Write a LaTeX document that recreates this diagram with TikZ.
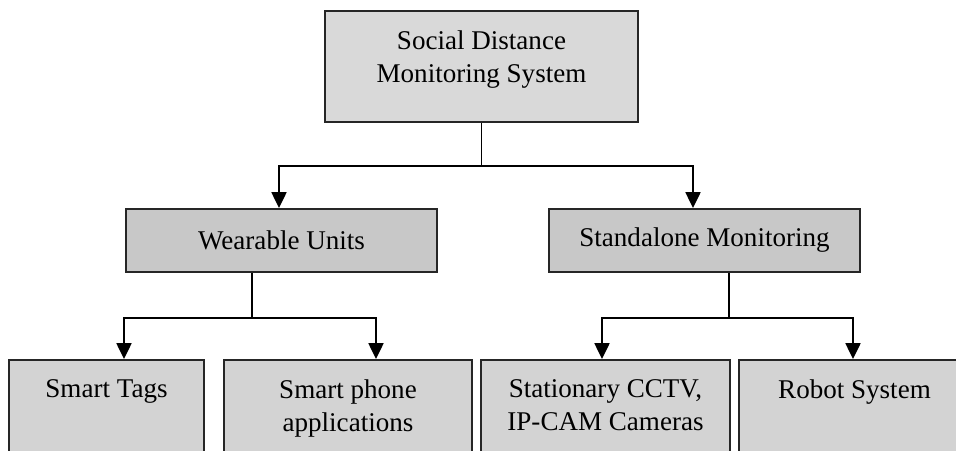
\documentclass[tikz,border=0pt]{standalone}
\usepackage{fontspec}
\setmainfont{Liberation Serif}
\usetikzlibrary{positioning}
\usetikzlibrary{arrows.meta}
\definecolor{topgray}{RGB}{217,217,217}
\definecolor{midgray}{RGB}{200,200,200}
\definecolor{lowgray}{RGB}{211,211,211}
\tikzset{every picture/.style={line width=1.1pt},
box/.style={draw=black!85,rectangle,inner sep=0pt},
lbl/.style={inner sep=0pt,align=center,font=\fontsize{15.4}{18.5}\selectfont},
arr/.style={-{Triangle[width=8.5pt,length=9pt]}}}

\begin{document}
\begin{tikzpicture}[x=0.02cm,y=0.02cm]
\useasboundingbox (0,0) rectangle (956,450);
\clip (0,0) rectangle (956,450);

% top
\node (sdms) at (481.5,383.5) [box,fill=topgray,minimum width=6.26cm,minimum height=2.22cm] {};
\node (sdmst) [lbl,below=0.4cm of sdms.north] {Social Distance\\Monitoring System};

% second row
\node (wear) at (281.5,209.5) [box,lbl,fill=midgray,minimum width=6.22cm,minimum height=1.26cm] {Wearable Units};
\node (stand) at (704.5,209.5) [box,lbl,fill=midgray,minimum width=6.22cm,minimum height=1.26cm] {Standalone Monitoring};

% third row (runs off the bottom)
\node (tags) at (106.5,35) [box,fill=lowgray,minimum width=3.9cm,minimum height=2.2cm] {};
\node (phone) at (348,35) [box,fill=lowgray,minimum width=4.96cm,minimum height=2.2cm] {};
\node (cctv) at (605.5,35) [box,fill=lowgray,minimum width=4.98cm,minimum height=2.2cm] {};
\node (robot) at (854.5,35) [box,fill=lowgray,minimum width=4.62cm,minimum height=2.2cm] {};
\node (tagst) [lbl,below=0.4cm of tags.north] {Smart Tags};
\node (phonet) [lbl,below=0.4cm of phone.north] {Smart phone\\applications};
\node (cctvt) [lbl,below=0.4cm of cctv.north] {Stationary CCTV,\\IP-CAM Cameras};
\node (robott) [lbl,below=0.4cm of robot.north] {Robot System};

% connectors
\draw (sdms.south) -- ++(0,-43) coordinate (j1);
\draw[arr] (j1) -| ([xshift=-0.05cm]wear.north);
\draw[arr] (j1) -| ([xshift=-0.23cm]stand.north);

\draw ([xshift=-0.59cm]wear.south) -- ++(0,-45) coordinate (j2);
\draw[arr] (j2) -| ([xshift=0.35cm]tags.north);
\draw[arr] (j2) -| ([xshift=0.56cm]phone.north);

\draw ([xshift=0.49cm]stand.south) -- ++(0,-45) coordinate (j3);
\draw[arr] (j3) -| ([xshift=-0.07cm]cctv.north);
\draw[arr] (j3) -| ([xshift=-0.03cm]robot.north);

\end{tikzpicture}
\end{document}
